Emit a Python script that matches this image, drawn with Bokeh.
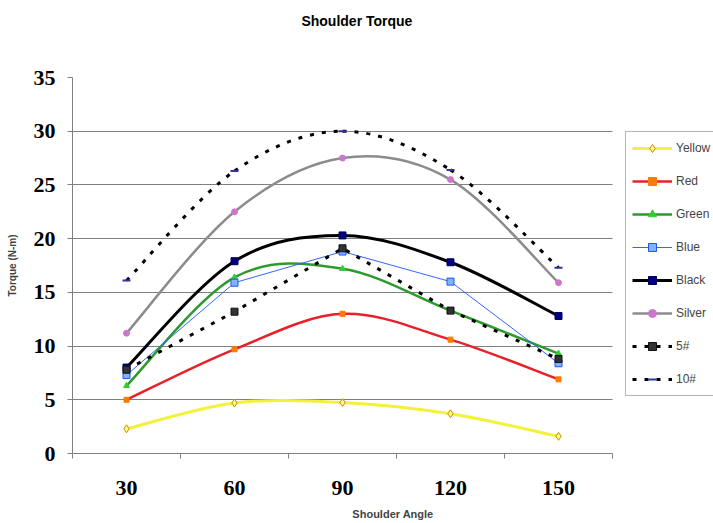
import numpy as np
from bokeh.plotting import figure
from bokeh.models import (Range1d, FixedTicker, Legend, LegendItem, BoxAnnotation,
                          LinearAxis)
from bokeh.embed import file_html
from bokeh.resources import INLINE

# ---- data ----
angles = [30, 60, 90, 120, 150]
x_tick_labels = ["30", "60", "90", "120", "150"]
series_names = ["Yellow", "Red", "Green", "Blue", "Black", "Silver", "5#", "10#"]
yellow = [2.3, 4.7, 4.75, 3.7, 1.6]
red = [5.0, 9.7, 13.0, 10.6, 6.9]
green = [6.3, 16.4, 17.2, 13.3, 9.3]
blue = [7.3, 15.9, 18.8, 16.0, 8.4]
black = [8.0, 17.9, 20.3, 17.8, 12.8]
silver = [11.2, 22.5, 27.5, 25.5, 15.9]
five = [7.8, 13.2, 19.1, 13.3, 8.8]
ten = [16.1, 26.3, 30.0, 26.4, 17.3]
title_text = "Shoulder Torque"

# plot area spans 15..165 on x (540 px); frame extended right to hold the legend
X_END = 165 + 101 / 3.6

p = figure(width=713, height=523, output_backend="svg", toolbar_location=None,
           x_range=Range1d(15, X_END), y_range=Range1d(0, 35),
           min_border_left=72, min_border_right=0,
           min_border_top=77, min_border_bottom=70, title=None)
p.outline_line_color = None
p.background_fill_color = "white"
p.border_fill_color = "white"

# axes
xa = p.below[0]
xa.bounds = (15, 165)
xa.ticker = FixedTicker(ticks=angles, minor_ticks=[15, 45, 75, 105, 135, 165])
xa.major_label_overrides = {a: l for a, l in zip(angles, x_tick_labels)}
xa.major_tick_out = 0
xa.major_tick_in = 0
xa.minor_tick_out = 5
xa.minor_tick_in = 0
xa.minor_tick_line_color = "#808080"
xa.axis_line_color = "#808080"
xa.major_label_text_font = "Liberation Serif"
xa.major_label_text_font_style = "bold"
xa.major_label_text_font_size = "22px"
xa.major_label_text_color = "black"
xa.major_label_standoff = 22
xa.axis_label = "Shoulder Angle"
xa.axis_label_text_font = "Liberation Sans"
xa.axis_label_text_font_style = "bold"
xa.axis_label_text_font_size = "11px"
xa.axis_label_standoff = 10

ya = p.left[0]
ya.ticker = FixedTicker(ticks=[0, 5, 10, 15, 20, 25, 30, 35])
ya.major_tick_out = 5
ya.major_tick_in = 0
ya.minor_tick_line_color = None
ya.major_tick_line_color = "#808080"
ya.axis_line_color = "#808080"
ya.major_label_text_font = "Liberation Serif"
ya.major_label_text_font_style = "bold"
ya.major_label_text_font_size = "22px"
ya.major_label_text_color = "black"
ya.major_label_standoff = 12
ya.axis_label = "Torque (N-m)"
ya.axis_label_text_font = "Liberation Sans"
ya.axis_label_text_font_style = "bold"
ya.axis_label_text_font_size = "10px"
ya.axis_label_standoff = 13

# chart title drawn as the single tick label of an otherwise empty top axis
top = LinearAxis(ticker=FixedTicker(ticks=[94]),
                 major_label_overrides={94: title_text},
                 axis_line_color=None, major_tick_line_color=None,
                 minor_tick_line_color=None, major_tick_out=0, major_tick_in=0,
                 major_label_standoff=49,
                 major_label_text_font="Liberation Sans",
                 major_label_text_font_style="bold",
                 major_label_text_font_size="14px",
                 major_label_text_color="black")
p.add_layout(top, "above")

p.xgrid.grid_line_color = None
p.ygrid.grid_line_color = "#808080"
p.ygrid.grid_line_width = 1
p.ygrid.ticker = FixedTicker(ticks=[0, 5, 10, 15, 20, 25, 30, 35])

# blank area right of the plot area (gridlines stop at the plot edge)
p.add_layout(BoxAnnotation(left=165, fill_color="white", fill_alpha=1,
                           line_color=None))


def smooth(xs, ys):
    """Bezier control points for a smoothed line through the data points."""
    x = np.asarray(xs, float)
    y = np.asarray(ys, float)
    n = len(x)
    xp = np.concatenate([[x[0]], x, [x[-1]]])
    yp = np.concatenate([[y[0]], y, [y[-1]]])
    d = {}
    d["x0"] = x[:-1]
    d["y0"] = y[:-1]
    d["x1"] = x[1:]
    d["y1"] = y[1:]
    d["cx0"] = x[:-1] + (xp[2:n + 1] - xp[0:n - 1]) / 6.0
    d["cy0"] = y[:-1] + (yp[2:n + 1] - yp[0:n - 1]) / 6.0
    d["cx1"] = x[1:] - (xp[3:n + 2] - xp[1:n]) / 6.0
    d["cy1"] = y[1:] - (yp[3:n + 2] - yp[1:n]) / 6.0
    return d


styles = [
    # name, values, smooth, line color, width, dash, marker, size, fill, mline
    ("Yellow", yellow, True, "#F2F23A", 3, "solid", "diamond", 8, "#FFFF80", "#CC8A00"),
    ("Red", red, True, "#E8202A", 2.5, "solid", "square", 5, "#FF7A00", "#FF7A00"),
    ("Green", green, True, "#2E9A2E", 2.5, "solid", "triangle", 6, "#33CC33", "#33CC33"),
    ("Blue", blue, False, "#3366FF", 1, "solid", "square", 7, "#7FB2FF", "#2255EE"),
    ("Black", black, True, "#000000", 3, "solid", "square", 7, "#000080", "#000060"),
    ("Silver", silver, True, "#8C8C8C", 2.5, "solid", "circle", 6, "#CC77CC", "#CC77CC"),
    ("5#", five, False, "#000000", 3, "4 8", "square", 7, "#333333", "#111111"),
    ("10#", ten, True, "#000000", 3, "4 8", "dash", 8, "#333399", "#333399"),
]

items = []
for name, vals, sm, lc, lw, dash, mk, ms, fc, mlc in styles:
    if sm:
        r1 = p.bezier(line_color=lc, line_width=lw, line_dash=dash, line_cap="butt",
                      **smooth(angles, vals))
    else:
        r1 = p.line(angles, vals, line_color=lc, line_width=lw, line_dash=dash)
    r2 = p.scatter(angles, vals, marker=mk, size=ms, fill_color=fc, line_color=mlc,
                   line_width=2 if mk == "dash" else 1)
    items.append(LegendItem(label=name, renderers=[r1, r2]))

legend = Legend(items=items, location=(553, 57), margin=0, padding=6,
                spacing=13, label_height=20, glyph_height=20, glyph_width=40,
                label_standoff=4, label_text_font="Liberation Sans",
                label_text_font_size="12px", border_line_color="#707070",
                border_line_width=1.5, background_fill_color="white",
                background_fill_alpha=1)
p.add_layout(legend, "center")

open("out.html", "w").write(file_html(p, INLINE))
